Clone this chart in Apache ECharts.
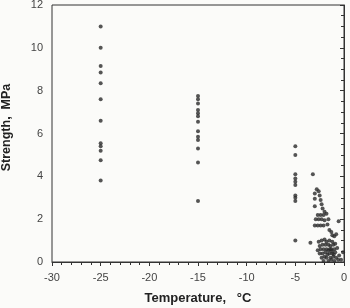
<!DOCTYPE html>
<html>
<head>
<meta charset="utf-8">
<script src="https://cdn.jsdelivr.net/npm/echarts@6/dist/echarts.min.js"></script>
<style>
html,body{margin:0;padding:0;background:#fbfbf9;}
#c{width:350px;height:308px;}
</style>
</head>
<body>
<div id="c"></div>
<script>
const xTitle = 'Temperature,   °C';
const yTitle = 'Strength,  MPa';

// Temperature -25 °C
const strengthAtMinus25 = [11.0, 10.0, 9.15, 8.85, 8.35, 7.6, 6.6, 5.55, 5.4, 5.2, 4.75, 3.8];
// Temperature -15 °C
const strengthAtMinus15 = [7.75, 7.6, 7.4, 7.1, 6.95, 6.8, 6.55, 6.1, 5.85, 5.7, 5.3, 4.65, 2.85];
// Temperature -5 °C
const strengthAtMinus5 = [5.4, 5.0, 4.1, 3.9, 3.75, 3.6, 3.1, 3.0, 2.85, 1.0];
// Warm ice cluster: [temperature, strength]
const warmCluster = [
  [-3.2, 4.1],
  [-2.8, 3.4], [-2.6, 3.3], [-3.0, 3.2], [-2.5, 3.1],
  [-3.0, 2.95], [-2.4, 2.9],
  [-3.0, 2.6], [-2.3, 2.7], [-2.2, 2.5], [-2.0, 2.35],
  [-2.7, 2.2], [-2.4, 2.2], [-2.1, 2.2], [-1.8, 2.25],
  [-2.9, 2.0], [-2.6, 2.0], [-2.3, 2.0], [-1.6, 2.0], [-2.0, 1.95],
  [-0.55, 1.9],
  [-3.0, 1.7], [-2.7, 1.7], [-2.4, 1.7], [-2.1, 1.7], [-1.7, 1.75],
  [-1.5, 1.5], [-1.3, 1.4], [-1.2, 1.25], [-1.0, 1.2], [-0.8, 1.3],
  [-3.45, 0.9],
  [-2.6, 0.95], [-2.3, 1.0], [-2.0, 1.05], [-1.8, 0.95], [-1.5, 1.0], [-1.2, 0.95],
  [-2.5, 0.75], [-2.2, 0.8], [-1.9, 0.8], [-1.6, 0.8], [-1.4, 0.75], [-1.1, 0.8], [-0.9, 0.85],
  [-2.7, 0.55], [-2.4, 0.6], [-2.1, 0.6], [-1.8, 0.6], [-1.6, 0.55], [-1.3, 0.6], [-1.0, 0.6], [-0.7, 0.65],
  [-2.5, 0.4], [-2.2, 0.4], [-1.9, 0.45], [-1.7, 0.35], [-1.5, 0.4], [-1.2, 0.4], [-0.9, 0.45], [-0.1, 0.45],
  [-2.3, 0.2], [-2.0, 0.25], [-1.8, 0.2], [-1.4, 0.2], [-1.1, 0.25], [-0.8, 0.2], [-0.5, 0.3],
  [-2.1, 0.05], [-1.6, 0.05], [-1.3, 0.1], [-1.0, 0.05], [-0.6, 0.1], [-0.3, 0.1],
  [-1.45, 0.6], [-1.25, 0.5], [-1.05, 0.35]
];

const points = []
  .concat(strengthAtMinus25.map(v => [-25, v]))
  .concat(strengthAtMinus15.map(v => [-15, v]))
  .concat(strengthAtMinus5.map(v => [-5, v]))
  .concat(warmCluster);

const chart = echarts.init(document.getElementById('c'), null, {renderer: 'canvas'});
const axisColor = '#333';
chart.setOption({
  backgroundColor: '#fbfbf9',
  animation: false,
  grid: {left: 52, right: 6, top: 5, bottom: 46, outerBoundsMode: 'none', containLabel: false,
         show: true, borderColor: axisColor, borderWidth: 1, backgroundColor: 'transparent'},
  xAxis: {
    type: 'value', min: -30, max: 0, interval: 5,
    name: xTitle, nameLocation: 'middle', nameGap: 30,
    nameTextStyle: {fontFamily: 'Liberation Sans', fontWeight: 'bold', fontSize: 13, color: '#222'},
    axisLine: {show: true, lineStyle: {color: axisColor, width: 1}},
    axisTick: {show: true, inside: false, length: 4, lineStyle: {color: axisColor}},
    minorTick: {show: true, splitNumber: 5, length: 3, lineStyle: {color: axisColor}},
    splitLine: {show: false},
    axisLabel: {fontFamily: 'Liberation Sans', fontSize: 11, color: '#444', margin: 10}
  },
  yAxis: {
    type: 'value', min: 0, max: 12, interval: 2,
    name: yTitle, nameLocation: 'middle', nameGap: 39, nameRotate: 90,
    nameTextStyle: {fontFamily: 'Liberation Sans', fontWeight: 'bold', fontSize: 12.5, color: '#222', padding: [0, 0, 0, 12]},
    axisLine: {show: true, lineStyle: {color: axisColor, width: 1}},
    axisTick: {show: true, inside: false, length: 4, lineStyle: {color: axisColor}},
    minorTick: {show: true, splitNumber: 4, length: 3, lineStyle: {color: axisColor}},
    splitLine: {show: false},
    axisLabel: {fontFamily: 'Liberation Sans', fontSize: 11, color: '#444', margin: 9}
  },
  series: [{
    type: 'scatter',
    data: points,
    symbol: 'circle',
    symbolSize: 4,
    itemStyle: {color: '#2a2a2a'},
    clip: true
  }]
});
</script>
</body>
</html>
